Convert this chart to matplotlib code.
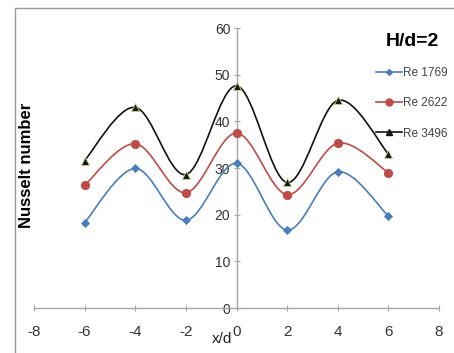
#!/usr/bin/env python3
"""Nusselt number along x/d for three Reynolds numbers (H/d=2)."""

import matplotlib
matplotlib.use("Agg")
import matplotlib.pyplot as plt
import numpy as np
from matplotlib.patches import PathPatch, Rectangle
from matplotlib.path import Path

x_d = [-6, -4, -2, 0, 2, 4, 6]
nu_1769 = [18.3, 29.9, 18.8, 31.0, 16.7, 29.2, 19.7]
nu_2622 = [26.3, 35.2, 24.7, 37.5, 24.3, 35.3, 29.0]
nu_3496 = [31.6, 43.0, 28.6, 47.6, 26.9, 44.5, 33.0]
series_labels = ["Re 1769", "Re 2622", "Re 3496"]
x_ticks = [-8, -6, -4, -2, 0, 2, 4, 6, 8]
y_ticks = [0, 10, 20, 30, 40, 50, 60]

FONT = ["Liberation Sans", "DejaVu Sans"]


def smooth_path(xs, ys, tension=1 / 6):
    # Excel-style smoothed line: Catmull-Rom segments drawn as cubic Beziers
    pts = np.column_stack([xs, ys]).astype(float)
    verts = [pts[0]]
    codes = [Path.MOVETO]
    n = len(pts)
    for i in range(n - 1):
        p0 = pts[max(i - 1, 0)]
        p1 = pts[i]
        p2 = pts[i + 1]
        p3 = pts[min(i + 2, n - 1)]
        c1 = p1 + (p2 - p0) * tension
        c2 = p2 - (p3 - p1) * tension
        verts += [c1, c2, p2]
        codes += [Path.CURVE4] * 3
    return Path(verts, codes)


def main() -> None:
    fig = plt.figure(figsize=(4.54, 3.53), dpi=100)
    ax = fig.add_axes([34 / 454, 1 - 308 / 353, 405 / 454, 280 / 353])

    # outer frame of the chart area
    fig.patches.append(Rectangle((15 / 454, -0.05), 1.0, 1 - 8 / 353 + 0.05,
                                 transform=fig.transFigure, fill=False,
                                 edgecolor="#9a9a9a", linewidth=1.0))

    styles = [
        (nu_1769, "#4a7ebb", "D", 4, "#4a7ebb"),
        (nu_2622, "#be4b48", "o", 6, "#be4b48"),
        (nu_3496, "#111111", "^", 6, "#1a1a1a"),
    ]
    for (vals, color, marker, ms, mfc), label in zip(styles, series_labels):
        ax.add_patch(PathPatch(smooth_path(x_d, vals), facecolor="none",
                               edgecolor=color, linewidth=1.2, zorder=3))
        ax.plot(x_d, vals, linestyle="none", marker=marker, markersize=ms,
                color=color, markerfacecolor=mfc,
                markeredgecolor="#c8d28a" if marker == "^" else color,
                markeredgewidth=0.6, zorder=4)
        ax.plot([], [], color=color, marker=marker, markersize=ms - 1,
                markerfacecolor=mfc, linewidth=1.2, label=label)

    ax.set_xlim(-8, 8)
    ax.set_ylim(0, 60)
    ax.set_xticks(x_ticks)
    ax.set_yticks(y_ticks)

    ax.spines["left"].set_position(("data", 0))
    ax.spines["bottom"].set_position(("data", 0))
    ax.spines["right"].set_visible(False)
    ax.spines["top"].set_visible(False)
    for s in ("left", "bottom"):
        ax.spines[s].set_color("#a6a6a6")
        ax.spines[s].set_linewidth(1.0)

    ax.tick_params(axis="both", direction="inout", length=5, width=0.8,
                   color="#a6a6a6", labelcolor="#333333")
    ax.tick_params(axis="y", pad=2)
    ax.tick_params(axis="x", pad=10)
    ax.set_yticklabels([str(v) for v in y_ticks], fontsize=10, family=FONT)
    ax.set_xticklabels([str(v) for v in x_ticks], fontsize=11, family=FONT)
    ax.patch.set_alpha(0)

    fig.text(27 / 454, 1 - 165 / 353, "Nusselt number", rotation=90,
             ha="center", va="center", fontsize=12, fontweight="bold",
             family=FONT)
    fig.text(222 / 454, 1 - 339 / 353, "x/d", ha="center", va="center",
             fontsize=11, family=FONT, color="#222222")
    fig.text(412 / 454, 1 - 41 / 353, "H/d=2", ha="center", va="center",
             fontsize=14, fontweight="bold", family=FONT)

    ax.legend(loc="upper left", bbox_to_anchor=(376 / 454, 1 - 67 / 353),
              bbox_transform=fig.transFigure, frameon=False,
              prop={"family": FONT, "size": 8.5}, handlelength=2.2,
              handletextpad=0.05, labelspacing=1.55, borderaxespad=0,
              borderpad=0, labelcolor="#444444")

    fig.savefig("out.png", dpi=100)


if __name__ == "__main__":
    main()
